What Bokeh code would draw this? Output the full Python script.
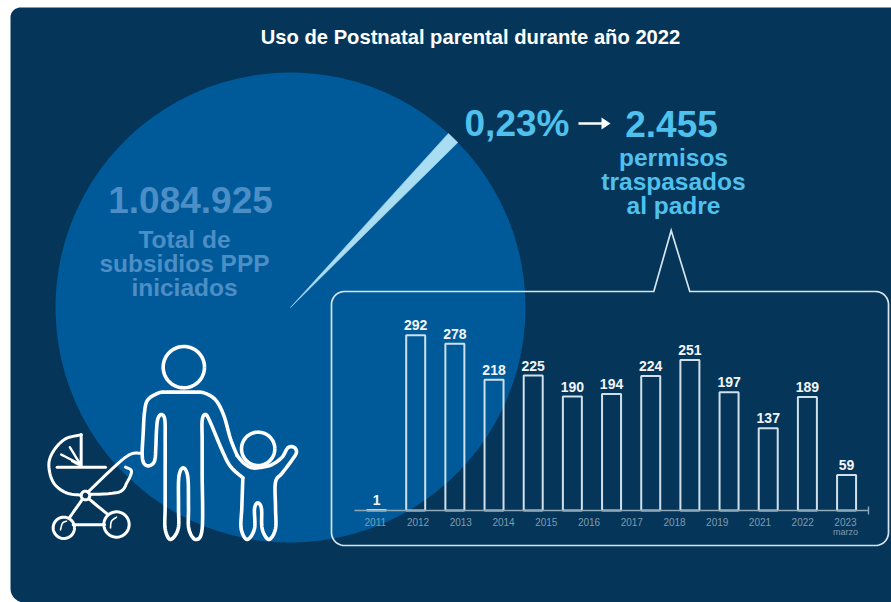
import numpy as np
from bokeh.plotting import figure
from bokeh.models import Range1d
from bokeh.core.properties import value
from bokeh.embed import file_html
from bokeh.resources import INLINE

title = "Uso de Postnatal parental durante año 2022"
total_label = "1.084.925"
total_lines = ["Total de", "subsidios PPP", "iniciados"]
share_label = "0,23%"
transfer_label = "2.455"
transfer_lines = ["permisos", "traspasados", "al padre"]
bar_values = [1, 292, 278, 218, 225, 190, 194, 224, 251, 197, 137, 189, 59]
tick_labels = ["2011", "2012", "2013", "2014", "2015", "2016", "2017", "2018", "2019", "2021", "2022", "2023"]
tick_note = "marzo"

BG = "#05365A"
PIE = "#005A9A"
CYAN = "#4FC1EC"
FONT = value("Liberation Sans")

p = figure(width=891, height=602, x_range=Range1d(0, 891), y_range=Range1d(602, 0),
           x_axis_location=None, y_axis_location=None, toolbar_location=None,
           output_backend="svg", min_border=0, outline_line_color=None,
           background_fill_color="white", border_fill_color="white")
p.grid.visible = False
p.extra_x_ranges = {"bars": Range1d(-9.60, 13.147), "ticks": Range1d(-8.769, 12.077)}
p.extra_y_ranges = {"vals": Range1d(-153.33, 850)}


def arc(cx, cy, r, a0, a1, n=12):
    t = np.radians(np.linspace(a0, a1, n))
    return list(cx + r * np.cos(t)), list(cy + r * np.sin(t))


# panel
xs0, ys0 = arc(20, 17, 10, 180, 270)
xs1, ys1 = arc(24, 588, 14, 90, 180)
p.patch(xs0 + [891, 891] + xs1, ys0 + [7, 602] + ys1, fill_color=BG, line_color=None)

# pie
cx, cy, R = 290, 307, 235
p.wedge(x=[cx], y=[cy], radius=[R], start_angle=[np.radians(47.8)], end_angle=[np.radians(44.6 + 360)],
        fill_color=PIE, line_color=None)
p.wedge(x=[cx], y=[cy], radius=[R], start_angle=[np.radians(44.6)], end_angle=[np.radians(47.8)],
        fill_color="#A9DDF1", line_color="#A9DDF1", line_width=0.6)


def txt(x, y, s, size, color, bold=True, align="center"):
    p.text(x=[x], y=[y], text=[s], text_font=FONT, text_font_size=f"{size}px",
           text_font_style="bold" if bold else "normal", text_color=color,
           text_align=align, text_baseline="middle")


txt(470, 36, title, 20.2, "white")
txt(190, 199, total_label, 37, "#4C8EC6")
for yy, s in zip([239, 263, 287], total_lines):
    txt(184, yy, s, 24.5, "#4C8EC6")
txt(516.5, 123, share_label, 37, CYAN)
txt(671, 123, transfer_label, 37, CYAN)
for yy, s in zip([157, 181, 205], transfer_lines):
    txt(673, yy, s, 24.5, CYAN)

# arrow
p.line([578, 604], [123, 123], line_color="white", line_width=2.6)
p.patch([601, 610, 601], [117, 123, 129], fill_color="white", line_color=None)

# inset
BOX = "#D5E5EE"
L, Rr, T, B, r = 331, 888, 291, 545, 13
a = arc(L + r, T + r, r, 180, 270)
b = arc(Rr - r, T + r, r, 270, 360)
c = arc(Rr - r, B - r, r, 0, 90)
d = arc(L + r, B - r, r, 90, 180)
bx = a[0] + [653.3, 670.7, 689.3] + b[0] + c[0] + d[0] + [a[0][0]]
by = a[1] + [T, 230, T] + b[1] + c[1] + d[1] + [a[1][0]]
p.line(bx, by, line_color=BOX, line_width=1.7, line_join="miter")

# bars
idx = np.arange(len(bar_values))
vals = np.array(bar_values, dtype=float)
p.vbar(x=idx, top=vals, bottom=0, width=0.485, x_range_name="bars", y_range_name="vals",
       fill_color=None, line_color="#CFE0EA", line_width=2)
p.text(x=idx, y=vals, text=[str(v) for v in bar_values], x_range_name="bars", y_range_name="vals",
       text_font=FONT, text_font_size="14px", text_font_style="bold", text_color="#F2F6F8",
       text_align="center", text_baseline="bottom", y_offset=-5)

# baseline
p.line([354, 868], [510, 510], line_color="#8FA8B8", line_width=1.6)
p.line([868, 868], [506, 514], line_color="#8FA8B8", line_width=1.4)
t_idx = np.arange(len(tick_labels))
p.text(x=t_idx, y=[0] * len(t_idx), text=tick_labels, x_range_name="ticks", y_range_name="vals",
       text_font=FONT, text_font_size="10px", text_color="#7F9BAE",
       text_align="center", text_baseline="middle", y_offset=11)
p.text(x=[t_idx[-1]], y=[0], text=[tick_note], x_range_name="ticks", y_range_name="vals",
       text_font=FONT, text_font_size="9px", text_color="#7F9BAE",
       text_align="center", text_baseline="middle", y_offset=21)


# icons: outlines traced in a 3x crop at (30,340)
def smooth(pts, n=8):
    P = np.array(pts, dtype=float)
    Q = np.vstack([P[0], P, P[-1]])
    out = []
    for i in range(1, len(Q) - 2):
        p0, p1, p2, p3 = Q[i - 1], Q[i], Q[i + 1], Q[i + 2]
        for t in np.linspace(0, 1, n, endpoint=False):
            out.append(0.5 * (2 * p1 + (p2 - p0) * t + (2 * p0 - 5 * p1 + 4 * p2 - p3) * t ** 2
                              + (3 * p1 - p0 - 3 * p2 + p3) * t ** 3))
    out.append(Q[-2])
    out = np.array(out)
    return list(30 + out[:, 0] / 3), list(340 + out[:, 1] / 3)


def draw(pts, width=3.6):
    xs, ys = smooth(pts)
    p.line(xs, ys, line_color="white", line_width=width, line_join="round", line_cap="round")


def ring(x, y, r, width=3.6):
    xs, ys = arc(30 + x / 3, 340 + y / 3, r / 3, 0, 360, 60)
    p.line(xs, ys, line_color="white", line_width=width)


adult = [(620, 345), (600, 295), (580, 225), (555, 178), (520, 157), (490, 155), (450, 155), (410, 155), (385, 157),
         (352, 178), (342, 215), (338, 280), (335, 340), (340, 368), (355, 376), (372, 362), (376, 320), (378, 270),
         (382, 235), (393, 222), (403, 238), (404, 300), (404, 400), (404, 500), (404, 565), (420, 597), (443, 565),
         (444, 500), (445, 410), (458, 382), (472, 410), (474, 500), (475, 565), (495, 597), (515, 565),
         (515, 400), (515, 300), (515, 240), (524, 222), (537, 240), (575, 330), (600, 378), (637, 412)]
child = [(637, 412), (634, 500), (632, 565), (650, 597), (672, 565), (672, 505), (682, 487), (693, 505),
         (695, 565), (715, 597), (735, 565), (735, 500), (735, 425), (755, 398), (785, 358), (798, 335), (790, 320),
         (772, 322), (755, 350), (725, 372), (695, 380), (665, 382), (640, 368), (620, 345)]
draw(adult)
draw(child)
ring(460, 80, 62)
ring(683, 325, 50)

hood = [(152, 283), (105, 295), (70, 330), (55, 372), (68, 425), (105, 456), (150, 464)]
basket = [(178, 462), (265, 455), (290, 425), (303, 392), (285, 380)]
draw(hood, 3)
draw([(152, 283), (152, 378)], 3)
draw(basket, 3)
draw([(80, 380), (225, 380)], 3)
draw([(150, 372), (118, 320)], 2.4)
draw([(150, 372), (92, 342)], 2.4)
draw([(150, 375), (125, 362)], 2.4)
draw([(172, 455), (285, 350), (332, 338)], 3)
ring(165, 465, 13, 3)
draw([(156, 476), (118, 530)], 3)
draw([(176, 476), (232, 522)], 3)
draw([(128, 553), (222, 553)], 3)
ring(100, 562, 32, 3)
ring(258, 552, 38, 3)
draw([(90, 568), (96, 548), (108, 542)], 1.6)
draw([(240, 562), (243, 542), (258, 530)], 1.6)

open("out.html", "w").write(file_html(p, INLINE))
